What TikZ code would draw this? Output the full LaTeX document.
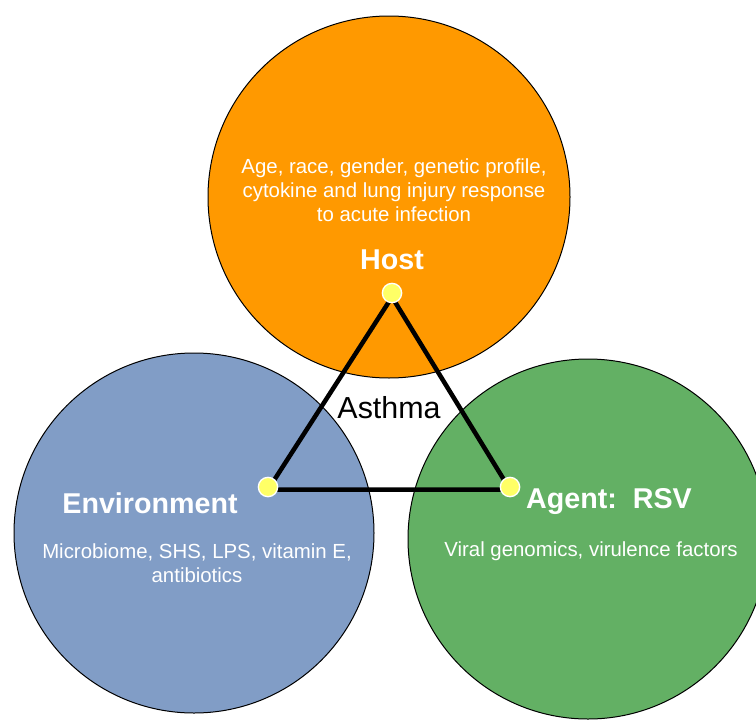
\documentclass[tikz,border=0pt]{standalone}
\usepackage{fontspec}
\setmainfont{Liberation Sans}
\usetikzlibrary{arrows,backgrounds}

\definecolor{hostorange}{RGB}{255,153,0}
\definecolor{envblue}{RGB}{129,157,198}
\definecolor{agentgreen}{RGB}{99,176,100}
\definecolor{dotyellow}{RGB}{255,255,102}

\begin{document}
\begin{tikzpicture}%
        [x={(0.75pt,0pt)},
        y={(0pt,-0.75pt)},
        disc/.style={circle,draw=black,line width=0.75pt,inner sep=0pt},
        side/.style={color=black,line width=3.4pt},
        vertex/.style={circle,inner sep=0pt,minimum size=14.5pt,draw=white,fill=dotyellow,line width=1pt},
        title/.style={text=white,font=\fontsize{21.5}{26}\selectfont\bfseries},
        info/.style={text=white,align=center,font=\fontsize{15.3}{18}\selectfont}]
    %
    \useasboundingbox (0,0) rectangle (756,721);
    \clip (0,0) rectangle (756,721);
    %
    %% Drawing the three circles
    \begin{scope}[on background layer]
    \node[disc,fill=hostorange,minimum size=271.5pt] (hostdisc) at (389,197) {};
    \node[disc,fill=envblue,minimum size=270pt] (envdisc) at (194,533) {};
    \node[disc,fill=agentgreen,minimum size=270pt] (agentdisc) at (588,539) {};
    \end{scope}
    %%
    %% Drawing the vertices
    \node[vertex] (host) at (392,293) {};
    \node[vertex] (env) at (268,487) {};
    \node[vertex] (agent) at (510,487) {};
    %%
    %% Drawing the triangle
    \begin{scope}[on background layer]
    \draw[side] ([yshift=-3pt]host.center) -- ([yshift=-2pt]env.center) -- ([yshift=-2pt]agent.center) -- cycle;
    \end{scope}
    %%
    %% Labels
    \node[info] (hostinfo) at (394,190) {Age, race, gender, genetic profile,\\cytokine and lung injury response\\to acute infection};
    \node[title] (hosttitle) at (392,260) {Host};
    \node[title] (envtitle) at (150,503) {Environment};
    \node[info] (envinfo) at (197,563) {Microbiome, SHS, LPS, vitamin E,\\antibiotics};
    \node[title] (agenttitle) at (609,502) {Agent:\ \ RSV};
    \node[info] (agentinfo) at (591,551) {Viral genomics, virulence factors};
    \node[font=\fontsize{22.8}{27}\selectfont] (asthma) at (389,408) {Asthma};
    %%
\end{tikzpicture}
\end{document}
